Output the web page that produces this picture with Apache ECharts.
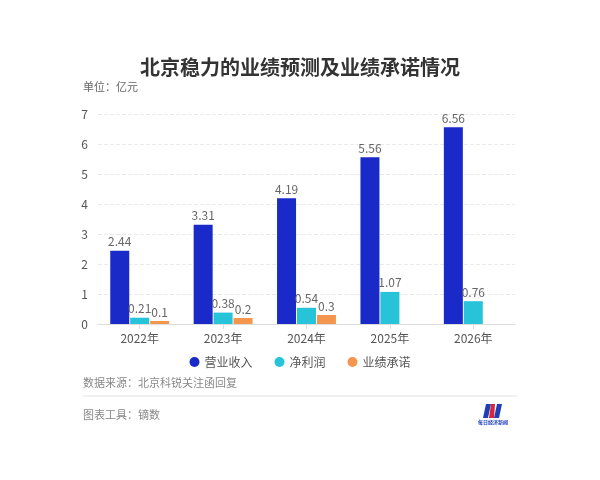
<!DOCTYPE html>
<html>
<head>
<meta charset="utf-8">
<script src="https://cdn.jsdelivr.net/npm/echarts@6/dist/echarts.min.js"></script>
<style>html,body{margin:0;padding:0;background:#fff}#c{width:600px;height:480px}</style>
</head>
<body>
<div id="c"></div>
<script>
var categories = ['2022年', '2023年', '2024年', '2025年', '2026年'];
var revenue = [2.44, 3.31, 4.19, 5.56, 6.56];
var netProfit = [0.21, 0.38, 0.54, 1.07, 0.76];
var commitment = [0.1, 0.2, 0.3, null, null];
var yTicks = [0, 1, 2, 3, 4, 5, 6, 7];

var font = '"Noto Sans CJK SC", "Noto Sans", sans-serif';
var chart = echarts.init(document.getElementById('c'));
var lbl = {show: true, position: 'top', color: '#666', fontSize: 12, distance: 3, fontFamily: font};
chart.setOption({
  backgroundColor: '#fff',
  textStyle: {fontFamily: font},
  title: {
    text: '北京稳力的业绩预测及业绩承诺情况',
    left: 'center', top: 52,
    textStyle: {fontSize: 20, fontWeight: 'bold', color: '#333', fontFamily: font}
  },
  legend: {
    data: ['营业收入', '净利润', '业绩承诺'],
    left: 'center', top: 351,
    icon: 'circle', itemWidth: 10, itemHeight: 10, itemGap: 22,
    textStyle: {color: '#555', fontSize: 12, fontFamily: font}
  },
  grid: {left: 98, right: 85, top: 114, bottom: 156},
  xAxis: {
    type: 'category', data: categories,
    axisLine: {lineStyle: {color: '#ddd'}},
    axisTick: {show: true, alignWithLabel: true, lineStyle: {color: '#ddd'}},
    axisLabel: {color: '#555', fontSize: 12, margin: 8}
  },
  yAxis: {
    type: 'value', min: yTicks[0], max: yTicks[yTicks.length - 1], interval: 1,
    axisLine: {show: false}, axisTick: {show: false},
    axisLabel: {color: '#555', fontSize: 12, margin: 10},
    splitLine: {lineStyle: {color: '#eaeaea', type: 'dashed'}}
  },
  series: [
    {name: '营业收入', type: 'bar', data: revenue, barWidth: 19, barGap: '5%', itemStyle: {color: '#1a2ac8'}, label: lbl},
    {name: '净利润', type: 'bar', data: netProfit, barWidth: 19, barGap: '5%', itemStyle: {color: '#26c3d9'}, label: lbl},
    {name: '业绩承诺', type: 'bar', data: commitment, barWidth: 19, barGap: '5%', itemStyle: {color: '#f5964f'}, label: lbl}
  ],
  graphic: [
    {type: 'text', left: 83, top: 81, style: {text: '单位：亿元', fill: '#666', fontSize: 11, fontFamily: font}},
    {type: 'text', left: 83, top: 377, style: {text: '数据来源：北京科锐关注函回复', fill: '#888', fontSize: 11, fontFamily: font}},
    {type: 'line', shape: {x1: 83, y1: 396, x2: 517, y2: 396}, style: {stroke: '#e2e2e2', lineWidth: 1}},
    {type: 'text', left: 83, top: 409, style: {text: '图表工具：镝数', fill: '#888', fontSize: 11, fontFamily: font}},
    {type: 'polygon', shape: {points: [[486, 404], [491, 404], [488, 418], [483, 418]]}, style: {fill: '#1e3fb8'}},
    {type: 'polygon', shape: {points: [[491, 404], [495, 404], [494, 418], [489, 418]]}, style: {fill: '#d8263a'}},
    {type: 'polygon', shape: {points: [[497, 404], [502, 404], [499, 418], [494, 418]]}, style: {fill: '#1e3fb8'}},
    {type: 'text', left: 478, top: 420, style: {text: '每日经济新闻', fill: '#1e3fb8', fontSize: 5, fontWeight: 'bold', fontFamily: font}}
  ]
});
</script>
</body>
</html>
